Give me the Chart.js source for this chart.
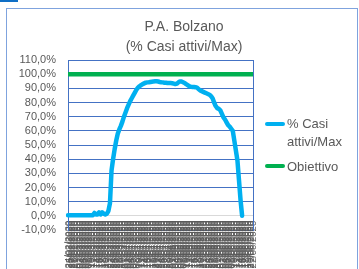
<!DOCTYPE html>
<html>
<head>
<meta charset="utf-8">
<script src="https://cdn.jsdelivr.net/npm/chart.js@4.4.0/dist/chart.umd.min.js"></script>
<style>
  body { margin: 0; background: #fff; width: 359px; height: 269px; overflow: hidden; position: relative; font-family: "Liberation Sans", Arial, sans-serif; }
  #tab { position: absolute; left: 0; top: 0; width: 18px; height: 2px; background: #0F6FC6; }
  #frame { position: absolute; left: 6px; top: 8px; width: 350px; height: 290px; border: 1px solid #7FA3DE; }
  #chart { position: absolute; left: 0; top: 0; }
  .leg-line { position: absolute; left: 265px; width: 20px; height: 4px; border-radius: 2px; }
  .leg-text { position: absolute; left: 287px; font-size: 13px; line-height: 18px; color: #595959; }
</style>
</head>
<body>
<div id="tab"></div>
<div id="frame"></div>
<canvas id="chart" width="359" height="269"></canvas>
<div class="leg-line" style="top:122px;background:#00B0F0"></div>
<div class="leg-text" style="top:115px">% Casi<br>attivi/Max</div>
<div class="leg-line" style="top:164px;background:#00B050"></div>
<div class="leg-text" style="top:158px">Obiettivo</div>
<script>
const dates = [
  '24/02/2020','25/02/2020','26/02/2020','27/02/2020','28/02/2020','29/02/2020',
  '01/03/2020','02/03/2020','03/03/2020','04/03/2020','05/03/2020','06/03/2020','07/03/2020','08/03/2020','09/03/2020','10/03/2020',
  '11/03/2020','12/03/2020','13/03/2020','14/03/2020','15/03/2020','16/03/2020','17/03/2020','18/03/2020','19/03/2020','20/03/2020',
  '21/03/2020','22/03/2020','23/03/2020','24/03/2020','25/03/2020','26/03/2020','27/03/2020','28/03/2020','29/03/2020','30/03/2020','31/03/2020',
  '01/04/2020','02/04/2020','03/04/2020','04/04/2020','05/04/2020','06/04/2020','07/04/2020','08/04/2020','09/04/2020','10/04/2020',
  '11/04/2020','12/04/2020','13/04/2020','14/04/2020','15/04/2020','16/04/2020','17/04/2020','18/04/2020','19/04/2020','20/04/2020',
  '21/04/2020','22/04/2020','23/04/2020','24/04/2020','25/04/2020','26/04/2020','27/04/2020','28/04/2020','29/04/2020','30/04/2020',
  '01/05/2020','02/05/2020','03/05/2020','04/05/2020','05/05/2020','06/05/2020','07/05/2020','08/05/2020','09/05/2020','10/05/2020',
  '11/05/2020','12/05/2020','13/05/2020','14/05/2020','15/05/2020','16/05/2020','17/05/2020','18/05/2020','19/05/2020','20/05/2020',
  '21/05/2020','22/05/2020','23/05/2020','24/05/2020','25/05/2020','26/05/2020','27/05/2020','28/05/2020','29/05/2020','30/05/2020','31/05/2020',
  '01/06/2020','02/06/2020','03/06/2020','04/06/2020','05/06/2020','06/06/2020','07/06/2020','08/06/2020','09/06/2020','10/06/2020',
  '11/06/2020','12/06/2020','13/06/2020','14/06/2020','15/06/2020','16/06/2020','17/06/2020','18/06/2020','19/06/2020','20/06/2020',
  '21/06/2020','22/06/2020'
];

// % casi attivi / max (ultimi giorni senza dato)
const casiAttivi = [
  0.5, 0.5, 0.5, 0.5, 0.5, 0.5, 0.5, 0.5, 0.5, 0.5, 0.5, 0.5, 0.5, 0.5, 0.5, 0.5, 0.5,
  2, 1, 1, 2.5, 1, 2.5, 1.5, 1, 1.5, 3.5, 9,
  32, 40, 47, 53, 58, 61, 63.5, 66.5, 70, 73, 76, 78.5, 81, 83, 85, 87, 89, 90.5, 91.5, 92.3, 93,
  93.5, 94, 94.2, 94.3, 94.5, 94.7, 94.9, 95, 95, 94.8, 94.5, 94.3, 94.2, 94, 94, 93.8, 93.8, 93.7, 93.6, 93.3,
  93, 93.3, 94.2, 94.9, 94.8, 94.3, 93.8, 93, 92.3, 91.5, 91.2, 91, 91, 90.8, 90.5, 89.5, 88.5, 88, 87.5, 87,
  86.5, 86, 85.5, 84.5, 83, 80, 77.5, 76, 75.5, 74.5, 72, 69.5, 68, 66, 64, 63, 61.5, 60, 53, 46, 39, 25, 11, 0,
  null, null, null, null, null, null, null
];

const obiettivo = [
  100,100,100,100,100,100,100,100,100,100,100,100,100,100,100,100,100,100,100,100,
  100,100,100,100,100,100,100,100,100,100,100,100,100,100,100,100,100,100,100,100,
  100,100,100,100,100,100,100,100,100,100,100,100,100,100,100,100,100,100,100,100,
  100,100,100,100,100,100,100,100,100,100,100,100,100,100,100,100,100,100,100,100,
  100,100,100,100,100,100,100,100,100,100,100,100,100,100,100,100,100,100,100,100,
  100,100,100,100,100,100,100,100,100,100,100,100,100,100,100,100,100,100,100,100
];

const yMin = -10;
const yMax = 110;
const yStep = 10;

const gray = '#595959';
const gridBlue = '#4472C4';

new Chart(document.getElementById('chart').getContext('2d'), {
  type: 'line',
  data: {
    labels: dates,
    datasets: [
      {
        label: '% Casi attivi/Max',
        data: casiAttivi,
        borderColor: '#00B0F0',
        borderWidth: 4.5,
        pointRadius: 0,
        tension: 0,
        borderJoinStyle: 'round',
        borderCapStyle: 'round',
        fill: false
      },
      {
        label: 'Obiettivo',
        data: obiettivo,
        borderColor: '#00B050',
        borderWidth: 4.5,
        pointRadius: 0,
        tension: 0,
        fill: false
      }
    ]
  },
  options: {
    responsive: false,
    animation: false,
    devicePixelRatio: 1,
    layout: { padding: { left: 9, right: 0, top: 0, bottom: 39 } },
    plugins: {
      legend: { display: false },
      tooltip: { enabled: false },
      title: {
        display: true,
        text: ['P.A. Bolzano', '(% Casi attivi/Max)'],
        color: gray,
        font: { family: 'Liberation Sans', size: 14, weight: 'normal', lineHeight: 20 / 14 },
        padding: { top: 17, bottom: 3 }
      }
    },
    scales: {
      x: {
        position: { y: 0 },
        grid: { display: false, drawTicks: false },
        border: { display: true, color: '#D9D9D9', width: 1 },
        ticks: {
          autoSkip: false,
          minRotation: 90,
          maxRotation: 90,
          padding: 5,
          color: gray,
          font: { family: 'Liberation Sans', size: 9.5 }
        }
      },
      y: {
        min: yMin,
        max: yMax,
        afterFit: s => { s.width = 59; },
        grid: { color: gridBlue, lineWidth: 1, drawTicks: false },
        border: { display: true, color: gridBlue, width: 1 },
        ticks: {
          stepSize: yStep,
          autoSkip: false,
          padding: 12,
          color: gray,
          font: { family: 'Liberation Sans', size: 11, lineHeight: 1 },
          callback: v => v.toFixed(1).replace('.', ',') + '%'
        }
      },
      yRight: {
        position: 'right',
        min: yMin,
        max: yMax,
        afterFit: s => { s.width = 106; },
        grid: { display: false, drawTicks: false },
        border: { display: true, color: gridBlue, width: 1 },
        ticks: { display: false }
      }
    }
  }
});
</script>
</body>
</html>
